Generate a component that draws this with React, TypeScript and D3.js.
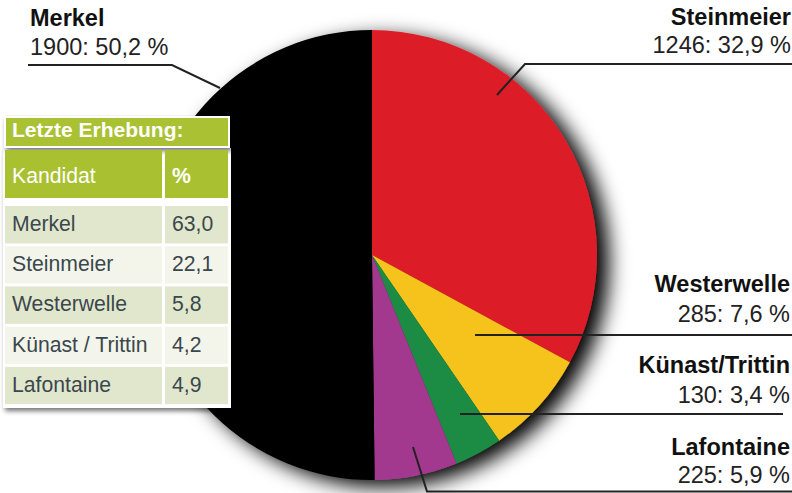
import React from "react";
import * as d3 from "d3";

// ---- data ----
const candidates = ["Steinmeier", "Westerwelle", "Künast/Trittin", "Lafontaine", "Merkel"];
const votes = [1246, 285, 130, 225, 1900];
const percents = ["32,9", "7,6", "3,4", "5,9", "50,2"];
const sliceColors = ["#dc1f26", "#f6c31c", "#1e8c44", "#a3398f", "#000000"];

const tableTitle = "Letzte Erhebung:";
const tableHeader = ["Kandidat", "%"];
const tableNames = ["Merkel", "Steinmeier", "Westerwelle", "Künast / Trittin", "Lafontaine"];
const tableValues = ["63,0", "22,1", "5,8", "4,2", "4,9"];

// ---- layout (annotations) ----
const W = 792;
const H = 493;
const cx = 372;
const cy = 255;
const R = 225;

type LabelLayout = {
  anchor: "start" | "end";
  x: number;
  y1: number;
  y2: number;
  line: [number, number][];
};
const labelLayout: Record<string, LabelLayout> = {
  Merkel: { anchor: "start", x: 30, y1: 26, y2: 55, line: [[28, 65], [172, 65], [220, 88]] },
  Steinmeier: { anchor: "end", x: 791, y1: 25, y2: 53, line: [[792, 64], [525, 64], [497, 95]] },
  Westerwelle: { anchor: "end", x: 790, y1: 292, y2: 322, line: [[792, 335], [475, 335]] },
  "Künast/Trittin": { anchor: "end", x: 790, y1: 373, y2: 403, line: [[783, 414], [460, 414]] },
  Lafontaine: { anchor: "end", x: 790, y1: 455, y2: 483, line: [[792, 491.5], [427, 491.5], [413, 447]] },
};

const FONT = "'Liberation Sans', Arial, Helvetica, sans-serif";
const GREEN = "#a9c131";
const ROW_A = "#e1e7cd";
const ROW_B = "#f3f5eb";
const TXT = "#3b474d";

export default function App() {
  const pie = d3
    .pie<number>()
    .sort(null)
    .value((d) => d)
    .startAngle(0)
    .endAngle(2 * Math.PI);
  const arcs = pie(votes);
  const arc = d3.arc<d3.PieArcDatum<number>>().innerRadius(0).outerRadius(R);
  const lineGen = d3.line();

  // table geometry
  const tX = 5;
  const col1W = 157;
  const col2X = 165;
  const col2W = 63;
  const headerY = 150;
  const headerH = 48;
  const rowY0 = 206;
  const rowPitch = 40.2;
  const rowH = 37.4;

  return (
    <svg
      width={W}
      height={H}
      viewBox={`0 0 ${W} ${H}`}
      style={{ position: "absolute", left: 0, top: 0, background: "#fff" }}
      fontFamily={FONT}
    >
      <defs>
        <filter id="pieShadow" x="-25%" y="-25%" width="150%" height="150%">
          <feGaussianBlur in="SourceAlpha" stdDeviation="10" />
          <feOffset dx="12" dy="7" result="b" />
          <feComponentTransfer>
            <feFuncA type="linear" slope="1" />
          </feComponentTransfer>
          <feMerge>
            <feMergeNode />
            <feMergeNode in="SourceGraphic" />
          </feMerge>
        </filter>
        <filter id="tblShadow" x="-10%" y="-10%" width="130%" height="130%">
          <feGaussianBlur in="SourceAlpha" stdDeviation="2.5" />
          <feOffset dx="2" dy="3" />
          <feComponentTransfer>
            <feFuncA type="linear" slope="0.55" />
          </feComponentTransfer>
          <feMerge>
            <feMergeNode />
            <feMergeNode in="SourceGraphic" />
          </feMerge>
        </filter>
      </defs>

      {/* pie */}
      <g transform={`translate(${cx},${cy})`} filter="url(#pieShadow)">
        {arcs.map((a, i) => (
          <path key={candidates[i]} d={arc(a) || ""} fill={sliceColors[i]} />
        ))}
      </g>

      {/* leader lines */}
      {candidates.map((c) => (
        <path
          key={"l" + c}
          d={lineGen(labelLayout[c].line) || ""}
          fill="none"
          stroke="#222"
          strokeWidth={2}
        />
      ))}

      {/* labels */}
      {candidates.map((c, i) => {
        const L = labelLayout[c];
        return (
          <g key={"t" + c} textAnchor={L.anchor}>
            <text x={L.x} y={L.y1} fontSize={23.5} fontWeight="bold" fill="#111">
              {c}
            </text>
            <text x={L.x} y={L.y2} fontSize={23.5} fill="#222">
              {`${votes[i]}: ${percents[i]} %`}
            </text>
          </g>
        );
      })}

      {/* table */}
      <g filter="url(#tblShadow)">
        <rect x={3} y={148} width={228} height={260} fill="#fff" />
      </g>
      <g filter="url(#tblShadow)">
        <rect x={4} y={116} width={226} height={32} fill="#fff" />
        <rect x={6} y={118} width={222} height={28} fill={GREEN} />
      </g>
      <text x={12} y={137} fontSize={21} fontWeight="bold" fill="#fff">
        {tableTitle}
      </text>

      <rect x={tX} y={headerY} width={col1W} height={headerH} fill={GREEN} />
      <rect x={col2X} y={headerY} width={col2W} height={headerH} fill={GREEN} />
      <text x={12} y={183} fontSize={21.2} fill="#fff">
        {tableHeader[0]}
      </text>
      <text x={172} y={183} fontSize={21.2} fontWeight="bold" fill="#fff">
        {tableHeader[1]}
      </text>

      {tableNames.map((n, i) => {
        const y = rowY0 + i * rowPitch;
        const fill = i % 2 === 0 ? ROW_A : ROW_B;
        return (
          <g key={"r" + n}>
            <rect x={tX} y={y} width={col1W} height={rowH} fill={fill} />
            <rect x={col2X} y={y} width={col2W} height={rowH} fill={fill} />
            <text x={12} y={y + 25} fontSize={21.2} fill={TXT}>
              {n}
            </text>
            <text x={172} y={y + 25} fontSize={21.2} fill={TXT}>
              {tableValues[i]}
            </text>
          </g>
        );
      })}
    </svg>
  );
}
